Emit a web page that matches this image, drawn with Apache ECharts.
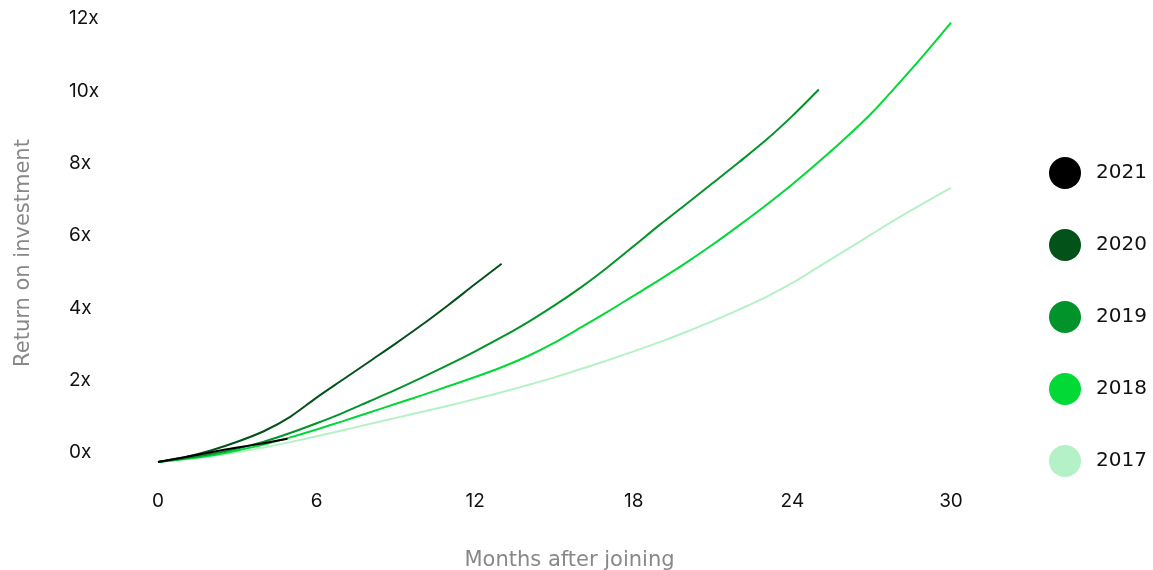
<!DOCTYPE html>
<html>
<head>
<meta charset="utf-8">
<script src="https://cdn.jsdelivr.net/npm/echarts@6/dist/echarts.min.js"></script>
<style>
  html, body { margin: 0; padding: 0; background: #ffffff; }
  #chart { width: 1153px; height: 570px; }
</style>
</head>
<body>
<div id="chart"></div>
<script>
// Cohort return on investment, by months since joining
const cohorts = ['2021', '2020', '2019', '2018', '2017'];
const cohortColors = ['#000000', '#03521a', '#02942a', '#01d936', '#b5f1c6'];

// The 2021 cohort is only a few months old
const months2021 = [0, 1, 2, 3, 4, 4.9];
const roi2021 = [0, 0.13, 0.27, 0.4, 0.52, 0.64];
const roi2020 = [0, 0.13, 0.32, 0.56, 0.85, 1.25, 1.78, 2.28, 2.78, 3.28, 3.8, 4.35, 4.92, 5.48];
const roi2019 = [0, 0.1, 0.22, 0.37, 0.56, 0.8, 1.07, 1.36, 1.68, 2.0, 2.34, 2.69, 3.06, 3.45,
  3.87, 4.33, 4.83, 5.38, 5.97, 6.57, 7.14, 7.72, 8.3, 8.9, 9.57, 10.3];
const roi2018 = [0, 0.08, 0.18, 0.32, 0.48, 0.68, 0.9, 1.13, 1.37, 1.61, 1.85, 2.1, 2.35, 2.62,
  2.93, 3.3, 3.72, 4.15, 4.6, 5.05, 5.52, 6.02, 6.55, 7.1, 7.68, 8.3, 8.95, 9.65, 10.45, 11.28, 12.15];
const roi2017 = [0, 0.07, 0.16, 0.27, 0.4, 0.55, 0.71, 0.88, 1.05, 1.22, 1.39, 1.56, 1.74, 1.93,
  2.13, 2.34, 2.57, 2.81, 3.06, 3.32, 3.6, 3.9, 4.22, 4.56, 4.95, 5.4, 5.85, 6.3, 6.75, 7.17, 7.58];

const monthTicks = [0, 6, 12, 18, 24, 30];
const roiTicks = [0, 2, 4, 6, 8, 10, 12];

const seriesValues = {
  '2021': roi2021, '2020': roi2020, '2019': roi2019, '2018': roi2018, '2017': roi2017
};

const TICK_FONT = 'Inter';
const TEXT_FONT = '"DejaVu Sans"';

// Oldest cohort drawn first so the newest lines sit on top
const drawOrder = ['2017', '2018', '2019', '2020', '2021'];
const series = drawOrder.map(name => {
  const values = seriesValues[name];
  const color = cohortColors[cohorts.indexOf(name)];
  return {
    name: name,
    type: 'line',
    smooth: 0.3,
    symbol: 'none',
    clip: false,
    lineStyle: { width: 2, color: color },
    itemStyle: { color: color },
    data: values.map((v, i) => [name === '2021' ? months2021[i] : i, v])
  };
});

const chart = echarts.init(document.getElementById('chart'), null, { renderer: 'canvas' });
chart.setOption({
  animation: false,
  backgroundColor: '#ffffff',
  textStyle: { fontFamily: TICK_FONT },
  grid: { left: 158, right: 202, top: 28, bottom: 108, containLabel: false, outerBoundsMode: 'none' },
  legend: {
    orient: 'vertical',
    left: 1044,
    top: 152,
    icon: 'circle',
    itemWidth: 32,
    itemHeight: 32,
    itemGap: 40,
    data: cohorts,
    textStyle: { fontFamily: TEXT_FONT, fontSize: 20, color: '#111111', padding: [0, 0, 0, 10] }
  },
  xAxis: {
    type: 'value',
    min: 0,
    max: 30,
    interval: 6,
    name: 'Months after joining',
    nameLocation: 'middle',
    nameGap: 88,
    nameTextStyle: { fontFamily: TEXT_FONT, fontSize: 21, color: '#888888', padding: [0, 0, 0, 30] },
    axisLine: { show: false },
    axisTick: { show: false },
    splitLine: { show: false },
    axisLabel: {
      margin: 30,
      fontFamily: TICK_FONT,
      fontSize: 19,
      color: '#111111',
      formatter: v => (monthTicks.includes(v) ? String(v) : '')
    }
  },
  yAxis: {
    type: 'value',
    min: 0,
    max: 12,
    interval: 2,
    name: 'Return on investment',
    nameLocation: 'middle',
    nameGap: 124,
    nameTextStyle: { fontFamily: TEXT_FONT, fontSize: 21, color: '#888888', padding: [0, 16, 0, 0] },
    axisLine: { show: false },
    axisTick: { show: false },
    splitLine: { show: false },
    axisLabel: {
      margin: 89,
      align: 'left',
      verticalAlign: 'bottom',
      fontFamily: TICK_FONT,
      fontSize: 19,
      color: '#111111',
      formatter: v => (roiTicks.includes(v) ? v + 'x' : '')
    }
  },
  series: series
});
</script>
</body>
</html>
